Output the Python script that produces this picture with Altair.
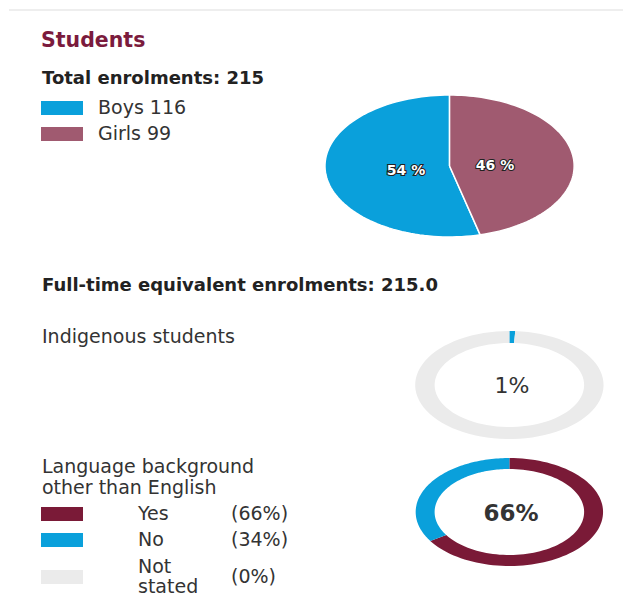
import altair as alt
import pandas as pd

# ---------------- data ----------------
sex_labels = ["Boys", "Girls"]
sex_counts = [116, 99]
sex_pct = [54, 46]
sex_draw_order = ["Girls", "Boys"]          # clockwise from 12 o'clock

indig_labels = ["Indigenous", "Non-Indigenous"]
indig_pct = [1, 99]

lbote_labels = ["Yes", "No", "Not stated"]
lbote_pct = [66, 34, 0]

total_enrolments = 215
fte_enrolments = "215.0"

# ---------------- styles ----------------
BLUE = "#0aa0db"
MAUVE = "#a05a70"
MAROON = "#7a1a37"
GREY = "#ebebeb"
TITLE = "#7b1b3d"
DARK = "#222222"
TEXT = "#333333"
FONT = "DejaVu Sans"
REG = 19
BOLD = 18

W, H = 615, 593
OFF = 8
xs = alt.Scale(domain=[OFF, OFF + W], nice=False, zero=False)
ys = alt.Scale(domain=[OFF, OFF + H], nice=False, zero=False, reverse=True)
N = 90


def slice_layer(df, cat, val, order_list, domain, colors, cx, cy, rx, ry,
                rxi=None, ryi=None, stroke=None, sw=0):
    d = df.copy()
    d["ord"] = [order_list.index(c) for c in d[cat]]
    ch = (
        alt.Chart(d)
        .transform_joinaggregate(total=f"sum({val})")
        .transform_window(cum=f"sum({val})", sort=[alt.SortField(field="ord", order="ascending")],
                          frame=[None, 0])
        .transform_calculate(a1=f"2*PI*datum.cum/datum.total")
        .transform_calculate(a0=f"2*PI*(datum.cum-datum['{val}'])/datum.total")
        .transform_filter(f"datum['{val}'] > 0")
    )
    if rxi is None:
        ch = (
            ch.transform_calculate(idx=f"sequence(0, {N + 3})")
            .transform_flatten(["idx"])
            .transform_calculate(ang=f"datum.a0 + (datum.a1-datum.a0)*clamp(datum.idx-1, 0, {N})/{N}")
            .transform_calculate(rr=f"(datum.idx == 0 || datum.idx == {N + 2}) ? 0 : 1")
            .transform_calculate(px=f"{cx} + {rx}*datum.rr*sin(datum.ang)")
            .transform_calculate(py=f"{cy} - {ry}*datum.rr*cos(datum.ang)")
        )
    else:
        ch = (
            ch.transform_calculate(idx=f"sequence(0, {2 * N + 2})")
            .transform_flatten(["idx"])
            .transform_calculate(outer=f"datum.idx <= {N}")
            .transform_calculate(t=f"datum.outer ? datum.idx/{N} : ({2 * N + 1}-datum.idx)/{N}")
            .transform_calculate(ang="datum.a0 + (datum.a1-datum.a0)*datum.t")
            .transform_calculate(px=f"{cx} + (datum.outer ? {rx} : {rxi})*sin(datum.ang)")
            .transform_calculate(py=f"{cy} - (datum.outer ? {ry} : {ryi})*cos(datum.ang)")
        )
    mk = dict(interpolate="linear", strokeWidth=sw)
    if stroke:
        mk["stroke"] = stroke
    else:
        mk["strokeOpacity"] = 0
    return ch.mark_line(**mk).encode(
        x=alt.X("px:Q", scale=xs, axis=None),
        y=alt.Y("py:Q", scale=ys, axis=None),
        fill=alt.Fill(f"{cat}:N", scale=alt.Scale(domain=domain, range=colors), legend=None),
        order=alt.Order("idx:Q"),
    )


def txt(text, x, y, size, weight="normal", color=TEXT, align="left", **kw):
    return alt.Chart(pd.DataFrame({"t": [text]})).mark_text(
        align=align, baseline="middle", font=FONT, fontSize=size, fontWeight=weight,
        color=color, **kw
    ).encode(x=alt.value(x - OFF), y=alt.value(y - OFF), text="t:N")


def swatch(x0, y0, x1, y1, color):
    return alt.Chart(pd.DataFrame({"k": [0]})).mark_rect(color=color).encode(
        x=alt.value(x0 - OFF), x2=alt.value(x1 - OFF),
        y=alt.value(y0 - OFF), y2=alt.value(y1 - OFF))


sex_df = pd.DataFrame({"sex": sex_labels, "n": sex_counts})
indig_df = pd.DataFrame({"cat": indig_labels, "pct": indig_pct})
lbote_df = pd.DataFrame({"lang": lbote_labels, "pct": lbote_pct})

layers = []
# top separator
layers.append(alt.Chart(pd.DataFrame({"k": [0]})).mark_rule(color="#eeeeee", strokeWidth=2).encode(
    x=alt.value(0), x2=alt.value(W), y=alt.value(10 - OFF)))

# pie
layers.append(slice_layer(sex_df, "sex", "n", sex_draw_order, sex_labels, [BLUE, MAUVE],
                          450, 166, 125, 71, stroke="white", sw=1.5))
# indigenous donut
layers.append(slice_layer(indig_df, "cat", "pct", indig_labels, indig_labels, [BLUE, GREY],
                          510, 385, 94.5, 54, rxi=75, ryi=42))
# language donut
layers.append(slice_layer(lbote_df, "lang", "pct", lbote_labels, lbote_labels, [MAROON, BLUE, GREY],
                          510, 512, 94, 54, rxi=75, ryi=43))

# headings
layers.append(txt("Students", 40, 41, 20.5, "bold", TITLE))
layers.append(txt(f"Total enrolments: {total_enrolments}", 41, 79, BOLD, "bold", DARK))
layers.append(txt(f"Full-time equivalent enrolments: {fte_enrolments}", 41, 286, BOLD, "bold", DARK))
layers.append(txt("Indigenous students", 41, 337, REG))
layers.append(txt("Language background", 41, 467, REG))
layers.append(txt("other than English", 41, 488, REG))

# sex legend
for (lab, cnt, col, yc) in zip(sex_labels, sex_counts, [BLUE, MAUVE], [108, 134]):
    layers.append(swatch(40, yc - 7, 82, yc + 7, col))
    layers.append(txt(f"{lab} {cnt}", 97, yc, REG))

# pie labels
for pct, (x, y) in zip(sex_pct, [(405, 171), (494, 166)]):
    layers.append(txt(f"{pct} %", x, y, 14, "bold", "#222222", align="center",
                      stroke="#222222", strokeWidth=2.2))
    layers.append(txt(f"{pct} %", x, y, 14, "bold", "white", align="center"))

# donut centre labels
layers.append(txt(f"{indig_pct[0]}%", 511, 386, 22, "normal", TEXT, align="center"))
layers.append(txt(f"{lbote_pct[0]}%", 510, 514, 23, "bold", TEXT, align="center"))

# language legend
for lab, pct, col, yc in zip(lbote_labels, lbote_pct, [MAROON, BLUE, GREY], [514, 540, 577]):
    layers.append(swatch(40, yc - 7, 82, yc + 7, col))
    if lab == "Not stated":
        layers.append(txt("Not", 137, 567, REG))
        layers.append(txt("stated", 137, 587, REG))
    else:
        layers.append(txt(lab, 137, yc, REG))
    layers.append(txt(f"({pct}%)", 230, yc, REG))

chart = alt.layer(*layers).resolve_scale(fill="independent").properties(
    width=W, height=H, padding=0,
    autosize=alt.AutoSizeParams(type="fit", contains="padding"),
).configure_view(stroke=None)

chart.save("out.html", embed_options={"renderer": "svg", "actions": False})
